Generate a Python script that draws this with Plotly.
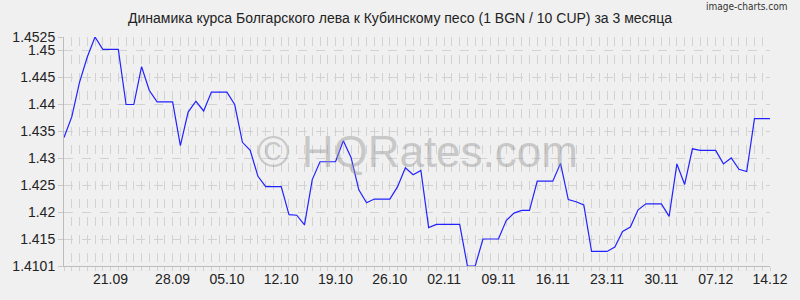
import plotly.graph_objects as go

values = [
    1.4339, 1.4377, 1.4441, 1.4488, 1.4525, 1.4502, 1.4502, 1.4502, 1.4400, 1.4400,
    1.4470, 1.4426, 1.4405, 1.4405, 1.4405, 1.4324, 1.4386, 1.4406, 1.4388, 1.4423,
    1.4423, 1.4423, 1.4400, 1.4330, 1.4315, 1.4267, 1.4248, 1.4248, 1.4248, 1.4196,
    1.4195, 1.4177, 1.4261, 1.4294, 1.4294, 1.4294, 1.4333, 1.4302, 1.4242, 1.4218,
    1.4225, 1.4225, 1.4225, 1.4248, 1.4283, 1.4270, 1.4278, 1.4172, 1.4178, 1.4178,
    1.4178, 1.4178, 1.4101, 1.4101, 1.4151, 1.4151, 1.4151, 1.4185, 1.4199, 1.4204,
    1.4204, 1.4258, 1.4258, 1.4258, 1.4291, 1.4224, 1.4220, 1.4214, 1.4128, 1.4128,
    1.4128, 1.4136, 1.4165, 1.4173, 1.4205, 1.4216, 1.4216, 1.4216, 1.4193, 1.4290,
    1.4252, 1.4318, 1.4315, 1.4315, 1.4315, 1.4290, 1.4301, 1.4280, 1.4276, 1.4374,
    1.4374, 1.4374,
]
x_index = list(range(len(values)))

x_tick_pos = [6, 14, 21, 28, 35, 42, 49, 56, 63, 70, 77, 84, 91]
x_tick_labels = ["21.09", "28.09", "05.10", "12.10", "19.10", "26.10", "02.11",
                 "09.11", "16.11", "23.11", "30.11", "07.12", "14.12"]

y_ticks = [1.4101, 1.415, 1.42, 1.425, 1.43, 1.435, 1.44, 1.445, 1.45, 1.4525]
y_tick_labels = ["1.4101", "1.415", "1.42", "1.425", "1.43", "1.435", "1.44", "1.445", "1.45", "1.4525"]

title_text = "Динамика курса Болгарского лева к Кубинскому песо (1 BGN / 10 CUP) за 3 месяца"
watermark = "© HQRates.com"
brand = "image-charts.com"

fig = go.Figure()
fig.add_trace(go.Scatter(
    x=x_index, y=values, mode="lines",
    line=dict(color="#2222ff", width=1.2),
    hoverinfo="skip", showlegend=False,
))

grid_col = "#d2d2d2"
fig.update_layout(
    width=800, height=300,
    margin=dict(l=60, r=21, t=37, b=34),
    paper_bgcolor="#f0f0f0", plot_bgcolor="#f0f0f0",
    font=dict(family="Liberation Sans, Arial, sans-serif", size=13, color="#222222"),
    title=dict(text=title_text, x=0.5, xanchor="center", y=1 - 18 / 300, yanchor="middle",
               font=dict(size=14, color="#222222")),
    xaxis=dict(
        range=[0, len(values) - 1],
        tickmode="array", tickvals=x_tick_pos, ticktext=x_tick_labels,
        showgrid=True, gridcolor=grid_col, griddash="dash", gridwidth=1,
        ticks="", showline=True, linecolor="#bdbdbd", linewidth=1,
        zeroline=False, tickfont=dict(size=14),
        minor=dict(tickmode="linear", tick0=0, dtick=1, showgrid=True,
                   gridcolor=grid_col, griddash="dash", gridwidth=1,
                   ticks="outside", ticklen=4, tickcolor=grid_col),
    ),
    yaxis=dict(
        range=[1.4101, 1.4525],
        tickmode="array", tickvals=y_ticks, ticktext=y_tick_labels,
        showgrid=True, gridcolor=grid_col, griddash="dash", gridwidth=1,
        ticks="outside", ticklen=5, tickcolor="#c8c8c8",
        showline=True, linecolor="#bdbdbd", linewidth=1,
        zeroline=False, tickfont=dict(size=14),
    ),
    annotations=[
        dict(text=watermark, x=0.5, y=0.5, xref="paper", yref="paper",
             xanchor="center", yanchor="middle", showarrow=False,
             font=dict(size=44, color="rgba(150,150,150,0.45)",
                       family="Liberation Sans, Arial, sans-serif")),
        dict(text=brand, x=1 + (798 - 779) / 719, y=1 + (37 - 6) / 229,
             xref="paper", yref="paper", showarrow=False,
             xanchor="right", yanchor="middle",
             font=dict(size=10, color="#333333",
                       family="DejaVu Sans Condensed, DejaVu Sans, sans-serif")),
    ],
)

fig.write_html("out.html")
